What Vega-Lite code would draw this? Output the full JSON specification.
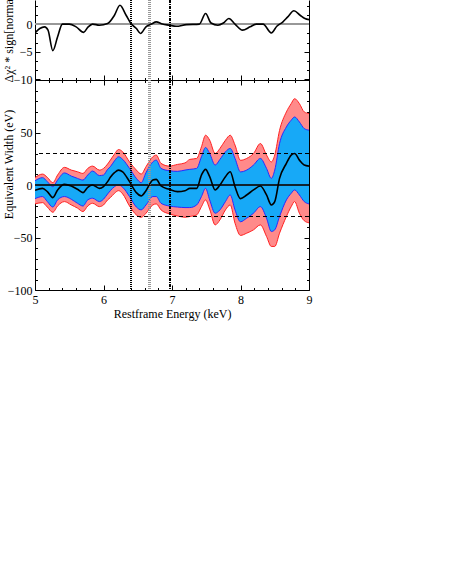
{
  "$schema": "https://vega.github.io/schema/vega-lite/v6.json",
  "autosize": "none",
  "padding": {"left": 35, "top": 0, "right": 141, "bottom": 583},
  "bounds": "flush",
  "spacing": 0,
  "background": "white",
  "config": {
    "view": {"stroke": null},
    "axis": {
      "grid": false,
      "domainColor": "black",
      "domainWidth": 1,
      "tickColor": "black",
      "tickWidth": 1,
      "labelFont": "Liberation Serif",
      "labelFontSize": 12,
      "labelColor": "black",
      "titleFont": "Liberation Serif",
      "titleFontSize": 12,
      "titleFontWeight": "normal",
      "titleColor": "black",
      "labelOverlap": false,
      "labelFlush": false,
      "labelBound": false
    }
  },
  "datasets": {
    "chi": [
      {"E": 5.00, "chi": -1.6}, {"E": 5.07, "chi": -0.8}, {"E": 5.14, "chi": -0.5}, {"E": 5.19, "chi": -1.1},
      {"E": 5.26, "chi": -4.8}, {"E": 5.33, "chi": -2.3}, {"E": 5.40, "chi": 0.0}, {"E": 5.50, "chi": 0.0},
      {"E": 5.60, "chi": -0.5}, {"E": 5.71, "chi": -1.5}, {"E": 5.77, "chi": -0.6}, {"E": 5.84, "chi": 0.0},
      {"E": 5.94, "chi": -0.2}, {"E": 6.06, "chi": 0.1}, {"E": 6.16, "chi": 1.6}, {"E": 6.24, "chi": 3.4},
      {"E": 6.33, "chi": 1.6}, {"E": 6.40, "chi": 0.1}, {"E": 6.48, "chi": -0.8}, {"E": 6.54, "chi": -1.7},
      {"E": 6.62, "chi": -0.5}, {"E": 6.70, "chi": 0.0}, {"E": 6.77, "chi": 0.4}, {"E": 6.86, "chi": 0.0},
      {"E": 6.96, "chi": -0.2}, {"E": 7.06, "chi": -0.4}, {"E": 7.21, "chi": -0.1}, {"E": 7.40, "chi": 0.0},
      {"E": 7.49, "chi": 1.9}, {"E": 7.57, "chi": 0.2}, {"E": 7.67, "chi": -0.2}, {"E": 7.75, "chi": 0.2},
      {"E": 7.83, "chi": 1.0}, {"E": 7.92, "chi": 0.0}, {"E": 8.03, "chi": -1.1}, {"E": 8.14, "chi": -0.5},
      {"E": 8.23, "chi": 0.0}, {"E": 8.33, "chi": 0.0}, {"E": 8.45, "chi": -1.6}, {"E": 8.53, "chi": -0.4},
      {"E": 8.62, "chi": 0.4}, {"E": 8.69, "chi": 1.3}, {"E": 8.78, "chi": 2.4}, {"E": 8.87, "chi": 1.6},
      {"E": 8.94, "chi": 1.0}, {"E": 9.00, "chi": 0.8}
    ],
    "ew": [
      {"E": 5.00, "rhi": 7.0, "bhi": 4.0, "c": -5.0, "blo": -13.0, "rlo": -18.0},
      {"E": 5.11, "rhi": 10.4, "bhi": 7.0, "c": -3.2, "blo": -11.0, "rlo": -16.8},
      {"E": 5.18, "rhi": 7.3, "bhi": 3.2, "c": -6.3, "blo": -15.8, "rlo": -21.0},
      {"E": 5.26, "rhi": 2.2, "bhi": -1.6, "c": -12.0, "blo": -21.0, "rlo": -26.0},
      {"E": 5.33, "rhi": 9.5, "bhi": 4.7, "c": -4.7, "blo": -14.2, "rlo": -20.0},
      {"E": 5.43, "rhi": 16.8, "bhi": 11.5, "c": 0.6, "blo": -11.0, "rlo": -15.8},
      {"E": 5.53, "rhi": 14.2, "bhi": 8.5, "c": -0.9, "blo": -13.6, "rlo": -19.0},
      {"E": 5.62, "rhi": 12.6, "bhi": 6.3, "c": -4.1, "blo": -17.4, "rlo": -22.0},
      {"E": 5.70, "rhi": 11.0, "bhi": 4.7, "c": -7.3, "blo": -20.0, "rlo": -25.3},
      {"E": 5.77, "rhi": 15.8, "bhi": 9.5, "c": -2.2, "blo": -14.2, "rlo": -20.0},
      {"E": 5.84, "rhi": 18.0, "bhi": 13.3, "c": 0.0, "blo": -12.6, "rlo": -17.4},
      {"E": 5.94, "rhi": 14.2, "bhi": 9.0, "c": -3.2, "blo": -15.8, "rlo": -20.6},
      {"E": 6.00, "rhi": 15.8, "bhi": 9.5, "c": -1.5, "blo": -13.5, "rlo": -19.0},
      {"E": 6.06, "rhi": 20.0, "bhi": 14.9, "c": 3.2, "blo": -8.5, "rlo": -14.2},
      {"E": 6.10, "rhi": 23.7, "bhi": 17.4, "c": 7.3, "blo": -5.4, "rlo": -12.0},
      {"E": 6.16, "rhi": 29.4, "bhi": 23.0, "c": 11.7, "blo": -1.6, "rlo": -7.9},
      {"E": 6.22, "rhi": 33.8, "bhi": 26.9, "c": 14.2, "blo": 0.0, "rlo": -5.4},
      {"E": 6.28, "rhi": 31.6, "bhi": 24.4, "c": 12.6, "blo": -2.2, "rlo": -8.5},
      {"E": 6.38, "rhi": 22.0, "bhi": 15.8, "c": 3.2, "blo": -11.0, "rlo": -20.0},
      {"E": 6.48, "rhi": 14.2, "bhi": 6.3, "c": -7.3, "blo": -21.0, "rlo": -28.5},
      {"E": 6.55, "rhi": 10.4, "bhi": 2.2, "c": -10.4, "blo": -23.7, "rlo": -30.7},
      {"E": 6.62, "rhi": 17.4, "bhi": 11.7, "c": -5.4, "blo": -19.0, "rlo": -26.9},
      {"E": 6.72, "rhi": 26.9, "bhi": 22.0, "c": 4.7, "blo": -11.0, "rlo": -19.0},
      {"E": 6.77, "rhi": 28.5, "bhi": 23.7, "c": 5.4, "blo": -11.0, "rlo": -18.0},
      {"E": 6.84, "rhi": 20.6, "bhi": 15.8, "c": -0.9, "blo": -17.4, "rlo": -23.7},
      {"E": 6.96, "rhi": 18.0, "bhi": 13.6, "c": -4.1, "blo": -20.0, "rlo": -27.5},
      {"E": 7.08, "rhi": 19.6, "bhi": 13.0, "c": -6.3, "blo": -21.0, "rlo": -29.5},
      {"E": 7.19, "rhi": 21.0, "bhi": 14.2, "c": -5.4, "blo": -21.5, "rlo": -30.7},
      {"E": 7.26, "rhi": 24.4, "bhi": 14.9, "c": -3.2, "blo": -21.5, "rlo": -30.0},
      {"E": 7.36, "rhi": 25.3, "bhi": 15.8, "c": -3.2, "blo": -19.0, "rlo": -28.5},
      {"E": 7.43, "rhi": 36.4, "bhi": 26.9, "c": 9.5, "blo": -11.0, "rlo": -20.6},
      {"E": 7.49, "rhi": 47.4, "bhi": 35.7, "c": 14.9, "blo": -3.2, "rlo": -14.2},
      {"E": 7.55, "rhi": 42.7, "bhi": 30.0, "c": 7.9, "blo": -14.2, "rlo": -23.0},
      {"E": 7.63, "rhi": 30.0, "bhi": 19.0, "c": -4.7, "blo": -26.9, "rlo": -38.0},
      {"E": 7.70, "rhi": 34.8, "bhi": 24.4, "c": 0.0, "blo": -23.7, "rlo": -33.2},
      {"E": 7.78, "rhi": 42.7, "bhi": 31.6, "c": 7.9, "blo": -15.8, "rlo": -23.7},
      {"E": 7.85, "rhi": 47.4, "bhi": 34.8, "c": 12.6, "blo": -9.5, "rlo": -19.0},
      {"E": 7.92, "rhi": 38.0, "bhi": 25.3, "c": -1.6, "blo": -23.7, "rlo": -36.4},
      {"E": 8.00, "rhi": 23.5, "bhi": 12.5, "c": -13.0, "blo": -35.0, "rlo": -48.0},
      {"E": 8.09, "rhi": 25.3, "bhi": 14.2, "c": -9.5, "blo": -31.6, "rlo": -45.9},
      {"E": 8.19, "rhi": 30.0, "bhi": 19.0, "c": -4.7, "blo": -26.9, "rlo": -42.7},
      {"E": 8.29, "rhi": 39.5, "bhi": 25.3, "c": -1.0, "blo": -20.6, "rlo": -38.0},
      {"E": 8.38, "rhi": 28.5, "bhi": 15.8, "c": -9.5, "blo": -31.6, "rlo": -49.0},
      {"E": 8.45, "rhi": 22.0, "bhi": 6.3, "c": -19.0, "blo": -44.3, "rlo": -58.5},
      {"E": 8.50, "rhi": 28.5, "bhi": 14.2, "c": -15.8, "blo": -42.7, "rlo": -58.5},
      {"E": 8.57, "rhi": 52.0, "bhi": 39.5, "c": 6.3, "blo": -30.0, "rlo": -45.9},
      {"E": 8.67, "rhi": 69.6, "bhi": 55.3, "c": 20.6, "blo": -14.2, "rlo": -30.0},
      {"E": 8.74, "rhi": 77.5, "bhi": 61.7, "c": 28.5, "blo": -7.9, "rlo": -20.6},
      {"E": 8.79, "rhi": 82.2, "bhi": 64.8, "c": 30.0, "blo": -4.7, "rlo": -15.8},
      {"E": 8.86, "rhi": 77.5, "bhi": 60.0, "c": 23.7, "blo": -9.5, "rlo": -26.9},
      {"E": 8.93, "rhi": 69.6, "bhi": 53.8, "c": 19.0, "blo": -15.8, "rlo": -34.0},
      {"E": 9.00, "rhi": 68.0, "bhi": 52.2, "c": 18.0, "blo": -18.0, "rlo": -36.0}
    ]
  },
  "vconcat": [
    {
      "width": 274,
      "height": 80,
      "data": {"name": "chi"},
      "resolve": {"axis": {"x": "independent", "y": "independent"}},
      "layer": [
        {
          "mark": {"type": "rule", "color": "#999999", "strokeWidth": 1.5},
          "encoding": {
            "y": {"datum": 0, "type": "quantitative",
              "axis": {"orient": "right", "labels": false, "title": null,
                "values": [-10, -8.333, -6.667, -5, -3.333, -1.667, 0, 1.667, 3.333],
                "tickSize": {"condition": {"test": "abs(datum.value - 5*round(datum.value/5)) < 0.01", "value": -5}, "value": -2.5}}}
          }
        },
        {
          "mark": {"type": "rule", "color": "black", "strokeWidth": 0.7, "strokeDash": [1, 1]},
          "encoding": {"x": {"datum": 6.4, "type": "quantitative", "axis": null}}
        },
        {
          "mark": {"type": "rule", "color": "#999999", "strokeWidth": 1.4, "strokeDash": [1, 1]},
          "encoding": {"x": {"datum": 6.67, "type": "quantitative", "axis": null}}
        },
        {
          "mark": {"type": "rule", "color": "black", "strokeWidth": 0.7, "strokeDash": [3, 1, 1, 1]},
          "encoding": {"x": {"datum": 6.97, "type": "quantitative", "axis": null}}
        },
        {
          "mark": {"type": "line", "color": "black", "strokeWidth": 1.6, "interpolate": "monotone", "clip": true},
          "encoding": {
            "x": {"field": "E", "type": "quantitative",
              "scale": {"domain": [5, 9], "nice": false, "zero": false},
              "axis": {"orient": "bottom", "labels": false, "title": null,
                "values": [5, 5.2, 5.4, 5.6, 5.8, 6, 6.2, 6.4, 6.6, 6.8, 7, 7.2, 7.4, 7.6, 7.8, 8, 8.2, 8.4, 8.6, 8.8, 9],
                "tickSize": {"condition": {"test": "abs(datum.value - round(datum.value)) < 0.01", "value": -5}, "value": -2.5}}},
            "y": {"field": "chi", "type": "quantitative",
              "scale": {"domain": [-10.1, 4.35], "nice": false, "zero": false},
              "axis": {"orient": "left", "format": "d", "labelOverlap": false,
                "values": [-10, -8.333, -6.667, -5, -3.333, -1.667, 0, 1.667, 3.333],
                "labelExpr": "abs(datum.value - 5*round(datum.value/5)) < 0.01 ? datum.label : ''",
                "tickSize": {"condition": {"test": "abs(datum.value - 5*round(datum.value/5)) < 0.01", "value": -5}, "value": -2.5},
                "labelPadding": 8,
                "title": "Δχ² * sign[normalization]",
                "titleX": -23, "titleY": 82, "titleAngle": -90, "titleAlign": "left", "titleBaseline": "alphabetic"}}
          }
        }
      ]
    },
    {
      "width": 274,
      "height": 210,
      "data": {"name": "ew"},
      "resolve": {"axis": {"x": "independent", "y": "independent"}},
      "layer": [
        {
          "mark": {"type": "area", "color": "#ff8a8a", "opacity": 1, "interpolate": "monotone", "clip": true},
          "encoding": {
            "x": {"field": "E", "type": "quantitative",
              "scale": {"domain": [5, 9], "nice": false, "zero": false},
              "axis": {"orient": "bottom", "format": "d", "labelOverlap": false,
                "values": [5, 6, 7, 8, 9],
                "tickSize": -5,
                "labelPadding": 9,
                "title": "Restframe Energy (keV)",
                "titleY": 27, "titleBaseline": "alphabetic"}},
            "y": {"field": "rlo", "type": "quantitative",
              "scale": {"domain": [-100, 100], "nice": false, "zero": false},
              "axis": {"orient": "left", "format": "d", "labelOverlap": false,
                "values": [-100, -90, -80, -70, -60, -50, -40, -30, -20, -10, 0, 10, 20, 30, 40, 50, 60, 70, 80, 90, 100],
                "labelExpr": "abs(datum.value - 50*round(datum.value/50)) < 0.01 && datum.value < 99 ? datum.label : ''",
                "tickSize": {"condition": {"test": "abs(datum.value - 50*round(datum.value/50)) < 0.01", "value": -5}, "value": -2.5},
                "labelPadding": 8,
                "title": "Equivalent Width (eV)",
                "titleX": -23, "titleY": 84, "titleAngle": -90, "titleAlign": "center", "titleBaseline": "alphabetic"}},
            "y2": {"field": "rhi"}
          }
        },
        {
          "mark": {"type": "line", "color": "#ff2020", "strokeWidth": 1, "interpolate": "monotone", "clip": true},
          "encoding": {
            "x": {"field": "E", "type": "quantitative",
              "axis": {"orient": "bottom", "labels": false, "title": null, "domain": false,
                "values": [5.2, 5.4, 5.6, 5.8, 6.2, 6.4, 6.6, 6.8, 7.2, 7.4, 7.6, 7.8, 8.2, 8.4, 8.6, 8.8],
                "tickSize": -2.5}},
            "y": {"field": "rhi", "type": "quantitative", "axis": null}
          }
        },
        {
          "mark": {"type": "line", "color": "#ff2020", "strokeWidth": 1, "interpolate": "monotone", "clip": true},
          "encoding": {
            "x": {"field": "E", "type": "quantitative", "axis": null},
            "y": {"field": "rlo", "type": "quantitative", "axis": null}
          }
        },
        {
          "mark": {"type": "area", "color": "#17a9f7", "opacity": 1, "interpolate": "monotone", "clip": true},
          "encoding": {
            "x": {"field": "E", "type": "quantitative", "axis": null},
            "y": {"field": "blo", "type": "quantitative", "axis": null},
            "y2": {"field": "bhi"}
          }
        },
        {
          "mark": {"type": "line", "color": "#2a2aff", "strokeWidth": 1, "interpolate": "monotone", "clip": true},
          "encoding": {
            "x": {"field": "E", "type": "quantitative", "axis": null},
            "y": {"field": "bhi", "type": "quantitative", "axis": null}
          }
        },
        {
          "mark": {"type": "line", "color": "#2a2aff", "strokeWidth": 1, "interpolate": "monotone", "clip": true},
          "encoding": {
            "x": {"field": "E", "type": "quantitative", "axis": null},
            "y": {"field": "blo", "type": "quantitative", "axis": null}
          }
        },
        {
          "mark": {"type": "rule", "color": "black", "strokeWidth": 1, "strokeDash": [4, 3]},
          "encoding": {
            "y": {"datum": 30, "type": "quantitative",
              "axis": {"orient": "right", "labels": false, "title": null,
                "values": [-100, -90, -80, -70, -60, -50, -40, -30, -20, -10, 0, 10, 20, 30, 40, 50, 60, 70, 80, 90, 100],
                "tickSize": {"condition": {"test": "abs(datum.value - 50*round(datum.value/50)) < 0.01", "value": -5}, "value": -2.5}}}
          }
        },
        {
          "mark": {"type": "rule", "color": "black", "strokeWidth": 1, "strokeDash": [4, 3]},
          "encoding": {"y": {"datum": -30, "type": "quantitative", "axis": null}}
        },
        {
          "mark": {"type": "rule", "color": "#10222e", "strokeWidth": 1},
          "encoding": {"y": {"datum": 0, "type": "quantitative", "axis": null}}
        },
        {
          "mark": {"type": "rule", "color": "black", "strokeWidth": 0.7, "strokeDash": [1, 1]},
          "encoding": {
            "x": {"datum": 6.4, "type": "quantitative",
              "axis": {"orient": "top", "labels": false, "title": null,
                "values": [5, 5.2, 5.4, 5.6, 5.8, 6, 6.2, 6.4, 6.6, 6.8, 7, 7.2, 7.4, 7.6, 7.8, 8, 8.2, 8.4, 8.6, 8.8, 9],
                "tickSize": {"condition": {"test": "abs(datum.value - round(datum.value)) < 0.01", "value": -5}, "value": -2.5}}}
          }
        },
        {
          "mark": {"type": "rule", "color": "#999999", "strokeWidth": 1.4, "strokeDash": [1, 1]},
          "encoding": {"x": {"datum": 6.67, "type": "quantitative", "axis": null}}
        },
        {
          "mark": {"type": "rule", "color": "black", "strokeWidth": 0.7, "strokeDash": [3, 1, 1, 1]},
          "encoding": {"x": {"datum": 6.97, "type": "quantitative", "axis": null}}
        },
        {
          "mark": {"type": "line", "color": "black", "strokeWidth": 1.6, "interpolate": "monotone", "clip": true},
          "encoding": {
            "x": {"field": "E", "type": "quantitative", "axis": null},
            "y": {"field": "c", "type": "quantitative", "axis": null}
          }
        }
      ]
    }
  ]
}
